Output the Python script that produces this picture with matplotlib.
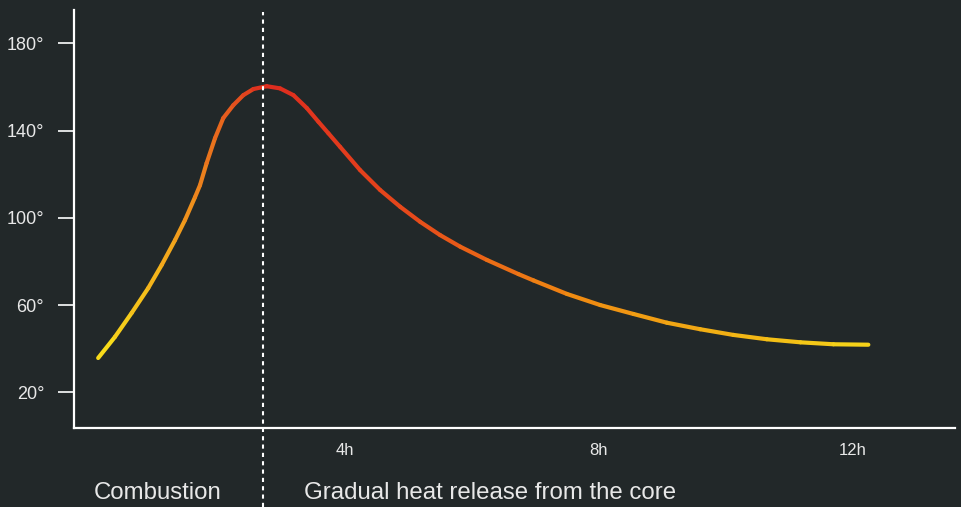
import matplotlib
matplotlib.use("Agg")
import matplotlib.pyplot as plt
import numpy as np
from matplotlib.collections import LineCollection
from matplotlib.colors import LinearSegmentedColormap, Normalize

plt.rcParams["font.family"] = ["Liberation Sans", "DejaVu Sans"]

# values
hours = [0.107, 0.372, 0.636, 0.897, 1.109, 1.319, 1.476, 1.634, 1.713, 1.817,
         1.950, 2.080, 2.238, 2.396, 2.554, 2.765, 2.975, 3.185, 3.396, 3.579,
         3.737, 3.921, 4.237, 4.552, 4.868, 5.183, 5.498, 5.814, 6.235, 6.733,
         6.970, 7.497, 8.022, 8.547, 9.073, 9.599, 10.12, 10.65, 11.18, 11.70,
         12.25]
temps = [35.7, 45.4, 56.4, 67.8, 78.4, 89.8, 99.0, 109.5, 115.0, 125.1,
         136.6, 145.8, 151.7, 156.3, 159.1, 160.4, 159.4, 156.3, 150.4, 144.1,
         138.8, 132.6, 121.9, 112.8, 105.1, 98.2, 92.1, 86.8, 80.7, 74.2,
         71.3, 65.1, 60.0, 55.9, 51.9, 48.9, 46.3, 44.3, 42.9, 42.0,
         41.8]
ytick_vals = [20, 60, 100, 140, 180]
ytick_labels = ["20°", "60°", "100°", "140°", "180°"]
xtick_vals = [4, 8, 12]
xtick_labels = ["4h", "8h", "12h"]
phase_split = 2.7
phase_labels = ["Combustion", "Gradual heat release from the core"]

bg = "#222829"
fg = "#e8e8e8"

fig = plt.figure(figsize=(9.61, 5.07), dpi=100, facecolor=bg)
ax = fig.add_axes([0.077, 0.156, 0.917, 0.824])
ax.set_facecolor(bg)
ax.set_xlim(-0.274, 13.62)
ax.set_ylim(3.63, 195.3)

# gradient line: colour follows position along the time axis
cmap = LinearSegmentedColormap.from_list("heat", [
    (0.0, "#f8e01a"), (0.1, "#f2a21c"), (0.216, "#de2b1f"), (0.4, "#e6481b"),
    (0.62, "#ef8a12"), (0.85, "#f3b815"), (1.0, "#f6d61a")])
x = np.array(hours)
y = np.array(temps)
pts = np.column_stack([x, y])
segs = np.stack([pts[:-1], pts[1:]], axis=1)
mids = (x[:-1] + x[1:]) / 2
norm = Normalize(x.min(), x.max())
lc = LineCollection(segs, colors=cmap(norm(mids)), linewidths=3.0,
                    capstyle="round", joinstyle="round", zorder=3)
ax.add_collection(lc)

# phase separator
ax.axvline(phase_split, ymin=-0.19, ymax=0.995, color="white", lw=1.5,
           ls=(0, (2, 2)), clip_on=False, zorder=4)

for s in ["top", "right"]:
    ax.spines[s].set_visible(False)
for s in ["left", "bottom"]:
    ax.spines[s].set_color("white")
    ax.spines[s].set_linewidth(1.6)

ax.set_yticks(ytick_vals)
ax.set_yticklabels(ytick_labels)
ax.set_xticks(xtick_vals)
ax.set_xticklabels(xtick_labels)
ax.tick_params(axis="y", colors="white", labelcolor=fg, length=11.5, width=1.2,
               pad=10, labelsize=13)
ax.tick_params(axis="x", length=0, pad=11, labelcolor=fg, labelsize=12)

trans = ax.get_xaxis_transform()
ax.annotate(phase_labels[0], xy=(phase_split, 0), xycoords=trans,
            xytext=(-29.5, -47), textcoords="offset points",
            ha="right", va="center", color=fg, fontsize=17.3)
ax.annotate(phase_labels[1], xy=(phase_split, 0), xycoords=trans,
            xytext=(29.5, -47), textcoords="offset points",
            ha="left", va="center", color=fg, fontsize=17.3)

fig.savefig("out.png", dpi=100, facecolor=bg)
